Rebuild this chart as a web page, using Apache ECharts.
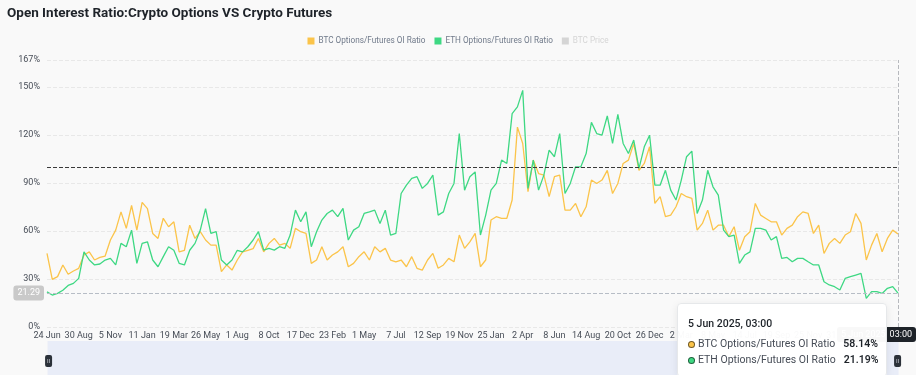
<!DOCTYPE html>
<html>
<head>
<meta charset="utf-8">
<script src="https://cdn.jsdelivr.net/npm/echarts@6/dist/echarts.min.js"></script>
<style>
  html, body { margin: 0; padding: 0; background: #f9f9f9; }
  #chart { width: 916px; height: 375px; }
</style>
</head>
<body>
<div id="chart"></div>
<script>
// ---- data ----
const chartTitle = 'Open Interest Ratio:Crypto Options VS Crypto Futures';
const seriesNames = ['BTC Options/Futures OI Ratio', 'ETH Options/Futures OI Ratio', 'BTC Price'];

// x-axis tick labels, one every 6 samples
const tickLabels = ['24 Jun', '30 Aug', '5 Nov', '11 Jan', '19 Mar', '26 May', '1 Aug', '8 Oct', '17 Dec',
  '23 Feb', '1 May', '7 Jul', '12 Sep', '19 Nov', '25 Jan', '2 Apr', '8 Jun', '14 Aug', '20 Oct',
  '26 Dec', '2 Mar', '8 May', '14 Jul', '19 Sep', '25 Nov', '31 Jan', '8 Apr'];
const samplesPerTick = 6;
const lastPointLabel = '5 Jun 2025, 03:00';
const pointerValue = 21.29;

const yTicks = { min: 0, max: 167, interval: 30 };
const thresholdLine = 100;

const btcRatio = [
  46, 29.8, 31.5, 38.8, 33, 35, 36.7, 45, 47, 41.9,
  43.5, 44.4, 54.4, 60.6, 72, 61.7, 76, 60.6, 78, 74,
  58.5, 55.4, 68, 62.7, 65.8, 47, 48, 63.7, 55.4, 59.6,
  54.4, 51.2, 51.2, 34.6, 38.8, 35.6, 41.9, 47, 48, 49,
  55.4,
  47, 52.3, 55.4, 51.2, 52.3, 49.2, 61.7, 59.6, 58.5, 39.8,
  41.9, 50.2, 41.9, 45, 47, 50.2, 37.7, 39.8, 44, 47,
  41.9, 50.2, 47, 49.2, 41.9, 40.8, 41.9, 37.7, 44, 36.7,
  35.6, 41.9, 46, 36.7, 38.8, 42.9, 40.8, 57.5, 49.2, 53.3,
  58.5,
  37.7, 41.9, 66.9, 69, 68, 68, 79.4, 125, 114.8, 84.6,
  104.4, 96, 95, 81.5, 94, 95, 73.1, 73.1, 77.3, 69,
  75.2, 91.9, 89.8, 91.9, 98, 83.5, 89.8, 102.3, 104.4, 114.8,
  98, 102.3, 112.7, 77.3, 81.5, 69, 70, 75.2, 83.5, 81.5,
  80.4, 60.6, 64.8, 73.1, 60.6, 63.7, 63.7, 56.5, 62.7, 48,
  56.5, 59.6, 77.3, 70, 67.9, 65.8, 65.8, 57.5, 61.7, 63.7,
  69, 72, 71, 58.5, 63.7, 46, 52.3, 55.4, 52.3, 57.5,
  59.6, 71, 64.8, 41.9, 51.2, 58.5, 47, 55.4, 60.6, 58.14
];

const ethRatio = [
  22, 20, 21, 23, 26, 27.3, 30.4, 47, 41.9, 38.8,
  39.4, 41.9, 42.9, 38.8, 52.3, 50.2, 60.6, 39.8, 52.3, 53.3,
  41.9, 37.7, 44, 50.2, 48, 39.8, 38.8, 48, 52.3, 60.6,
  74, 58.5, 59.6, 41.9, 38.8, 41.9, 48, 47, 50.2, 54.4,
  59.6,
  48.1, 49.2, 48.1, 50.2, 49.2, 57.5, 73.1, 65.8, 72, 50.2,
  59.6, 66.9, 71, 73.1, 69, 74.2, 54.4, 60.6, 62.7, 71,
  72, 73.1, 64.8, 73.1, 57.5, 58.5, 83.5, 88.7, 92.9, 94,
  86.7, 89.8, 95, 70, 72, 83.5, 89.8, 121, 85.6, 94,
  97,
  57.5, 70, 85.6, 89.8, 104.4, 102.3, 133.5, 137.7, 148, 86.7,
  104.4, 85.6, 95, 110.6, 106.5, 121, 83.5, 89.8, 100.2, 100.2,
  108.5, 128, 121, 120, 132, 114.8, 133, 114.8, 108.5, 116.9,
  99.2, 112.7, 120, 88.7, 88.7, 98, 85.6, 79.4, 91.9, 106.5,
  110, 71, 79.4, 98, 87.7, 82.5, 60.6, 56.5, 57.5, 39.8,
  45, 47, 61.7, 61.7, 60.6, 54.4, 56.5, 42.9, 43.5, 40.8,
  42.9, 42.9, 40.8, 38.8, 38.8, 28.3, 26.3, 25.2, 23.1, 30.4,
  31.5, 32.5, 33.5, 17.9, 22.1, 22.1, 21, 24.2, 25.2, 21.19
];

const btcPrice = [];
const categories = btcRatio.map((_, i) => String(i));

// ---- styles ----
const FONT = 'Roboto, "Noto Sans", sans-serif';
const colors = ['#fbc44a', '#3ed883', '#cccccc'];

const chart = echarts.init(document.getElementById('chart'), null, { renderer: 'canvas' });

const handlePath = 'path://M2,0 H5 A2,2 0 0 1 7,2 V10 A2,2 0 0 1 5,12 H2 A2,2 0 0 1 0,10 V2 A2,2 0 0 1 2,0 Z ' +
  'M2.5,4 V8 H3 V4 Z M4,4 V8 H4.5 V4 Z';

chart.setOption({
  animation: false,
  backgroundColor: '#f9f9f9',
  color: colors,
  textStyle: { fontFamily: FONT },
  title: {
    text: chartTitle,
    left: 2,
    top: 2,
    textStyle: { fontSize: 13.5, fontWeight: 'bold', color: '#1e2329', fontFamily: FONT }
  },
  legend: {
    top: 32,
    left: 'center',
    icon: 'rect',
    itemWidth: 7,
    itemHeight: 7,
    itemGap: 9,
    textStyle: { fontSize: 8.2, color: '#707a8a', fontFamily: FONT, padding: [0, 0, 0, -1] },
    inactiveColor: '#d5d5d5',
    data: seriesNames,
    selected: { 'BTC Price': false }
  },
  grid: { left: 47, right: 18, top: 60, bottom: 48, containLabel: false },
  tooltip: {
    trigger: 'axis',
    alwaysShowContent: true,
    transitionDuration: 0,
    backgroundColor: 'rgba(255,255,255,0.97)',
    borderColor: '#e6e8ea',
    borderWidth: 1,
    padding: [13, 12, 8, 10],
    extraCssText: 'border-radius:4px;box-shadow:0 2px 8px rgba(0,0,0,0.08);width:186px;box-sizing:content-box;',
    textStyle: { fontFamily: FONT, fontSize: 10.5, color: '#474d57' },
    position: function () { return [677, 303]; },
    axisPointer: {
      type: 'cross',
      crossStyle: { color: '#b7bdc6', type: 'dashed', width: 1 }
    },
    formatter: function (params) {
      let html = '<div style="font-weight:500;color:#1e2329;margin-bottom:5px;line-height:14px;font-size:10.5px">' + lastPointLabel + '</div>';
      params.forEach(function (p) {
        if (p.value == null) return;
        html += '<div style="display:flex;align-items:center;height:16px;line-height:16px;white-space:nowrap;font-size:10.5px">' +
          '<span style="flex:none;display:inline-block;width:5px;height:5px;border-radius:50%;background:' + p.color +
          ';border:1px solid rgba(0,0,0,0.55);margin-right:3px"></span>' +
          '<span style="flex:1 1 auto;color:#474d57">' + p.seriesName + '</span>' +
          '<span style="flex:none;font-weight:600;color:#1e2329;margin-left:8px">' + Number(p.value).toFixed(2) + '%</span></div>';
      });
      return html;
    }
  },
  xAxis: {
    type: 'category',
    data: categories,
    boundaryGap: false,
    axisLine: { show: false },
    axisTick: { show: false },
    axisLabel: {
      interval: samplesPerTick - 1,
      fontSize: 9,
      color: '#474d57',
      margin: 4,
      fontFamily: FONT,
      formatter: function (v, idx) { return tickLabels[Math.round(idx / samplesPerTick)] || ''; }
    },
    splitLine: { show: false },
    axisPointer: {
      label: {
        backgroundColor: '#1e2329',
        color: '#fff',
        fontSize: 9,
        padding: [3, 4],
        margin: 0,
        fontFamily: FONT,
        formatter: function () { return lastPointLabel; }
      }
    }
  },
  yAxis: {
    type: 'value',
    min: yTicks.min,
    max: yTicks.max,
    interval: yTicks.interval,
    axisLine: { show: false },
    axisTick: { show: false },
    axisLabel: { fontSize: 9, color: '#474d57', margin: 7, formatter: '{value}%', fontFamily: FONT },
    splitLine: { lineStyle: { color: '#e8e8e8', type: 'dashed' } },
    axisPointer: {
      label: {
        backgroundColor: '#c9c9c9',
        color: '#fff',
        fontSize: 9,
        padding: [3, 4],
        margin: 3,
        fontFamily: FONT,
        formatter: function (p) { return Number(p.value).toFixed(2); }
      }
    }
  },
  dataZoom: [{
    type: 'slider',
    xAxisIndex: 0,
    start: 0,
    end: 100,
    left: 47,
    right: 18,
    top: 341,
    height: 40,
    showDetail: false,
    showDataShadow: false,
    brushSelect: false,
    moveHandleSize: 0,
    backgroundColor: 'rgba(0,0,0,0)',
    fillerColor: '#e9edf8',
    borderColor: 'rgba(0,0,0,0)',
    handleIcon: handlePath,
    handleSize: '30%',
    handleStyle: { color: '#2b3139', borderColor: '#2b3139', borderWidth: 0 }
  }],
  series: [
    {
      name: seriesNames[0],
      type: 'line',
      data: btcRatio,
      symbol: 'none',
      showSymbol: false,
      lineStyle: { width: 1.3, color: colors[0] },
      itemStyle: { color: colors[0] },
      emphasis: { disabled: true },
      z: 2,
      markLine: {
        silent: true,
        symbol: ['none', 'none'],
        label: { show: false },
        lineStyle: { color: '#3a3a3a', type: 'dashed', width: 1 },
        data: [{ yAxis: thresholdLine }]
      }
    },
    {
      name: seriesNames[1],
      type: 'line',
      data: ethRatio,
      symbol: 'none',
      showSymbol: false,
      lineStyle: { width: 1.3, color: colors[1] },
      itemStyle: { color: colors[1] },
      emphasis: { disabled: true },
      z: 3
    },
    {
      name: seriesNames[2],
      type: 'line',
      data: btcPrice,
      symbol: 'none',
      lineStyle: { width: 1, color: colors[2] },
      itemStyle: { color: colors[2] }
    }
  ]
});

const px = chart.convertToPixel({ xAxisIndex: 0 }, btcRatio.length - 1);
const py = chart.convertToPixel({ yAxisIndex: 0 }, pointerValue);
chart.dispatchAction({ type: 'showTip', x: px - 0.5, y: py });
</script>
</body>
</html>
